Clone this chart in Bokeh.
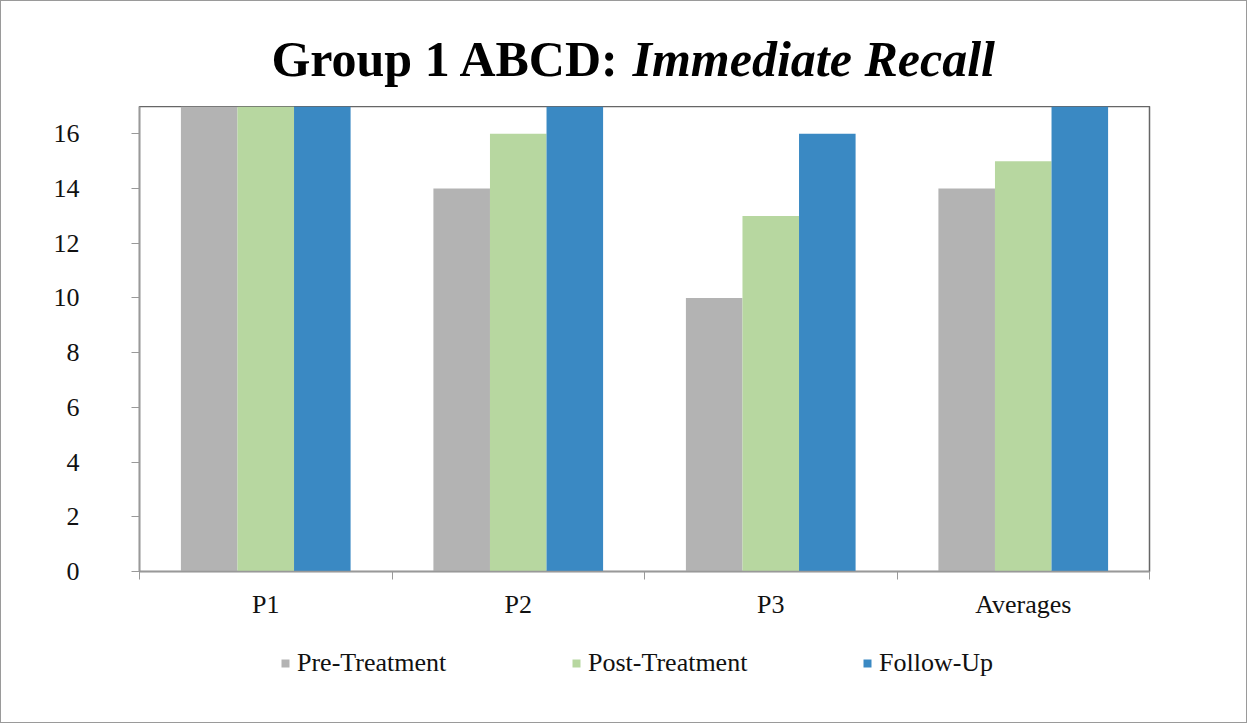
from bokeh.plotting import figure
from bokeh.models import (ColumnDataSource, Range1d, FixedTicker, Legend, LegendItem,
                          Label)
from bokeh.transform import dodge
from bokeh.layouts import column
from bokeh.embed import file_html
from bokeh.resources import INLINE

# ---- data ----
categories = ["P1", "P2", "P3", "Averages"]
pre_treatment = [18, 14, 10, 14]
post_treatment = [18, 16, 13, 15]
follow_up = [19, 18, 16, 18]
y_ticks = [0, 2, 4, 6, 8, 10, 12, 14, 16]
series_names = ["Pre-Treatment", "Post-Treatment", "Follow-Up"]
series_colors = ["#b3b3b3", "#b7d7a0", "#3a89c3"]
title_plain = "Group 1 ABCD:"
title_italic = "Immediate Recall"

FONT = "Liberation Serif"
LEFT, FRAME_W, RIGHT = 138, 1010, 97
TITLE_H = 105
LEG_H = 91


def strip(height):
    f = figure(output_backend="svg", toolbar_location=None,
               frame_width=FRAME_W, frame_height=height,
               min_border_left=LEFT, min_border_right=RIGHT,
               min_border_top=0, min_border_bottom=0,
               x_range=Range1d(LEFT, LEFT + FRAME_W), y_range=Range1d(0, height),
               x_axis_location=None, y_axis_location=None,
               border_fill_color="white", background_fill_color="white")
    f.grid.visible = False
    f.outline_line_color = None
    return f


# ---- title strip ----
t = strip(TITLE_H)
t.add_layout(Label(x=619, y=48, text=title_plain,
                   text_font=FONT, text_font_size="50px", text_font_style="bold",
                   text_align="right", text_baseline="alphabetic", text_color="black"))
t.add_layout(Label(x=631, y=48, text=title_italic,
                   text_font=FONT, text_font_size="50px", text_font_style="bold italic",
                   text_align="left", text_baseline="alphabetic", text_color="black"))

# ---- main chart ----
xpos = [i + 0.5 for i in range(len(categories))]
src = ColumnDataSource(dict(x=xpos, pre=pre_treatment, post=post_treatment, fol=follow_up))

p = figure(output_backend="svg", toolbar_location=None,
           x_range=Range1d(0, len(categories)), y_range=Range1d(0, 17),
           frame_width=FRAME_W, frame_height=465,
           min_border_left=LEFT, min_border_right=RIGHT, min_border_top=0, min_border_bottom=60,
           background_fill_color="white", border_fill_color="white")
p.outline_line_color = "#666666"
p.outline_line_width = 1.5
p.grid.visible = False

bw = 0.224
cols = ["pre", "post", "fol"]
offsets = [-bw, 0, bw]
for c, off, col in zip(cols, offsets, series_colors):
    p.vbar(x=dodge("x", off), top=c, width=bw, bottom=0, source=src,
           fill_color=col, line_color=None)

# y axis
ya = p.yaxis[0]
ya.ticker = FixedTicker(ticks=y_ticks)
ya.major_label_text_font = FONT
ya.major_label_text_font_size = "26px"
ya.major_label_text_color = "#111111"
ya.major_tick_out = 8
ya.major_tick_in = 0
ya.minor_tick_out = 0
ya.minor_tick_in = 0
ya.major_label_standoff = 52
ya.axis_line_color = "#999999"
ya.major_tick_line_color = "#999999"
ya.axis_line_width = 1.5

# x axis: labels at centres, ticks at boundaries
xa = p.xaxis[0]
xa.ticker = FixedTicker(ticks=xpos, minor_ticks=list(range(len(categories) + 1)))
xa.major_label_overrides = {v: lab for v, lab in zip(xpos, categories)}
xa.major_label_text_font = FONT
xa.major_label_text_font_size = "26px"
xa.major_label_text_color = "#111111"
xa.major_tick_out = 0
xa.major_tick_in = 0
xa.minor_tick_out = 8
xa.minor_tick_in = 0
xa.minor_tick_line_color = "#999999"
xa.major_label_standoff = 10
xa.axis_line_color = "#999999"
xa.axis_line_width = 1.5

# ---- legend strip (hidden copies of the series supply the swatches) ----
lg = strip(LEG_H)
leg_renderers = []
for c, col in zip(cols, series_colors):
    r = lg.vbar(x="x", top=c, width=bw, source=src, fill_color=col, line_color=None)
    r.visible = False
    leg_renderers.append(r)
legend = Legend(items=[LegendItem(label=n, renderers=[r]) for n, r in zip(series_names, leg_renderers)],
                orientation="horizontal", location=(141, 44),
                label_text_font=FONT, label_text_font_size="26px", label_text_color="#111111",
                glyph_width=10, glyph_height=10, label_standoff=7, label_width=274,
                spacing=0, padding=0, margin=0, inactive_fill_alpha=0,
                border_line_color=None, background_fill_alpha=0)
lg.add_layout(legend, "center")

layout = column(t, p, lg, spacing=0, styles={"border": "1px solid #9a9a9a"})
open("out.html", "w").write(file_html(layout, INLINE))
